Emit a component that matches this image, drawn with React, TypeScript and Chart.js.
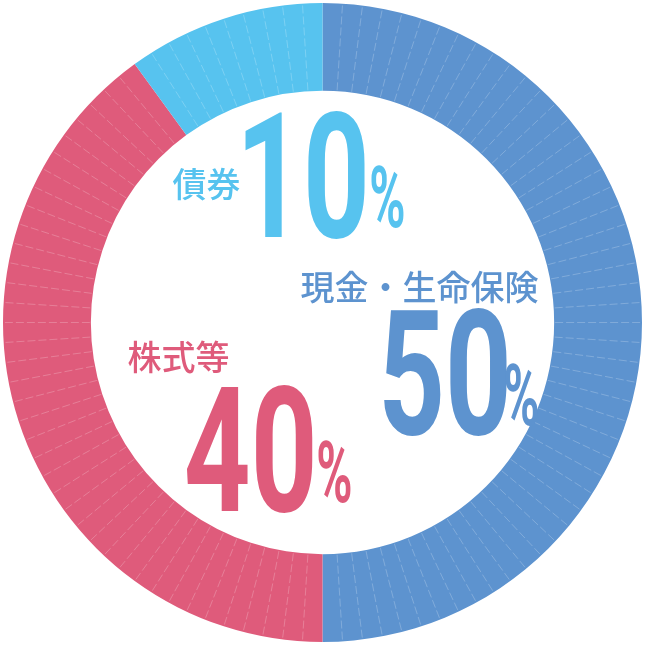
import { useEffect, useRef } from "react"
import { Chart, registerables } from "chart.js"

Chart.register(...registerables)

// 資産配分 (%)
const categories = ["現金・生命保険", "株式等", "債券"]
const shares = [50, 40, 10]
const colors = ["#5d93cf", "#df5b7b", "#57c3ef"]

// text placement, offsets from the ring centre in px (name: ink centre)
const labelLayout = [
  { nameDx: 97, nameDy: -35, numDx: 61, numBottom: 113, pctDx: 183, pctBottom: 103 },
  { nameDx: -144, nameDy: 35, numDx: -136, numBottom: 190, pctDx: -4, pctBottom: 180 },
  { nameDx: -116, nameDy: -138, numDx: -77, numBottom: -84, pctDx: 49, pctBottom: -95 },
]

function drawCondensed(
  ctx: CanvasRenderingContext2D,
  text: string,
  left: number,
  bottom: number,
  size: number,
  sx: number,
) {
  ctx.save()
  ctx.font = `700 ${size}px Roboto`
  ctx.textAlign = "left"
  ctx.textBaseline = "alphabetic"
  const m = ctx.measureText(text)
  ctx.translate(left + m.actualBoundingBoxLeft * sx, bottom - m.actualBoundingBoxDescent)
  ctx.scale(sx, 1)
  ctx.fillText(text, 0, 0)
  ctx.restore()
}

const ringLines = {
  id: "ringLines",
  afterDatasetsDraw(chart: Chart) {
    const arc = chart.getDatasetMeta(0).data[0] as any
    if (!arc) return
    const { x, y, innerRadius, outerRadius } = arc.getProps(["x", "y", "innerRadius", "outerRadius"], true)
    const total = shares.reduce((a, b) => a + b, 0)
    const bounds = new Set<number>()
    let acc = 0
    shares.forEach((s) => {
      acc += s
      bounds.add(acc)
    })
    const ctx = chart.ctx
    ctx.save()
    ctx.strokeStyle = "rgba(255, 255, 255, 0.22)"
    ctx.lineWidth = 1
    ctx.setLineDash([8, 3])
    for (let i = 1; i < total; i++) {
      if (bounds.has(i)) continue
      const a = -Math.PI / 2 + (i / total) * Math.PI * 2
      ctx.beginPath()
      ctx.moveTo(x + Math.cos(a) * (innerRadius + 1), y + Math.sin(a) * (innerRadius + 1))
      ctx.lineTo(x + Math.cos(a) * (outerRadius - 1), y + Math.sin(a) * (outerRadius - 1))
      ctx.stroke()
    }
    ctx.restore()
  },
}

const shareLabels = {
  id: "shareLabels",
  afterDraw(chart: Chart) {
    const arc = chart.getDatasetMeta(0).data[0] as any
    if (!arc) return
    const { x, y } = arc.getProps(["x", "y"], true)
    const ctx = chart.ctx
    categories.forEach((name, i) => {
      const l = labelLayout[i]
      ctx.save()
      ctx.fillStyle = colors[i]
      ctx.font = `500 34px "Noto Sans CJK JP"`
      ctx.textAlign = "center"
      ctx.textBaseline = "middle"
      ctx.fillText(name, x + l.nameDx, y + l.nameDy)
      drawCondensed(ctx, String(shares[i]), x + l.numDx, y + l.numBottom, 174, 0.67)
      drawCondensed(ctx, "%", x + l.pctDx, y + l.pctBottom, 86, 0.57)
      ctx.restore()
    })
  },
}

export default function App() {
  const chartRef = useRef<HTMLCanvasElement>(null)
  const chartInstance = useRef<Chart | null>(null)

  useEffect(() => {
    if (!chartRef.current) return
    if (chartInstance.current) chartInstance.current.destroy()
    const ctx = chartRef.current.getContext("2d")
    if (!ctx) return

    chartInstance.current = new Chart(ctx, {
      type: "doughnut",
      data: {
        labels: categories,
        datasets: [
          {
            data: shares,
            backgroundColor: colors,
            borderWidth: 0,
          },
        ],
      },
      options: {
        responsive: true,
        maintainAspectRatio: false,
        animation: false,
        cutout: "72.5%",
        layout: { padding: 3 },
        plugins: {
          legend: { display: false },
          tooltip: { enabled: false },
        },
      },
      plugins: [ringLines, shareLabels],
    })

    return () => {
      if (chartInstance.current) {
        chartInstance.current.destroy()
        chartInstance.current = null
      }
    }
  }, [])

  return (
    <div style={{ position: "fixed", left: 0, top: 0, width: 645, height: 645, background: "#fff" }}>
      <canvas ref={chartRef} />
    </div>
  )
}
